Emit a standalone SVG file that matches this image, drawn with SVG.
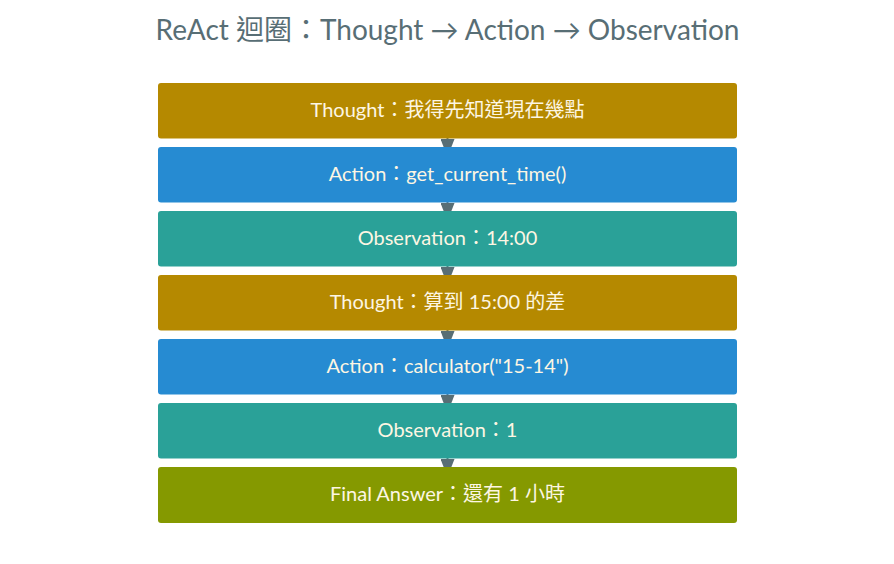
<svg xmlns="http://www.w3.org/2000/svg" width="894" height="564" viewBox="0 0 894 564">
<defs>
<style>
.title{font-family:"Lato","Noto Sans CJK TC",sans-serif;font-size:28px;fill:#586e75;text-anchor:middle}
.lbl{font-family:"Lato","Noto Sans CJK TC",sans-serif;font-size:20px;fill:#fdf6e3;text-anchor:middle}
.thought{fill:#b58900}
.action{fill:#268bd2}
.obs{fill:#2aa198}
.final{fill:#859900}
.edge{stroke:#586e75;stroke-width:2;fill:none}
</style>
<marker id="arr" markerUnits="userSpaceOnUse" markerWidth="18" markerHeight="14" refX="18" refY="7" orient="auto">
<path d="M0,0 L18,7 L0,14 z" fill="#586e75"/>
</marker>
</defs>
<rect width="894" height="564" fill="#ffffff"/>
<text class="title" x="447.5" y="40">ReAct 迴圈：Thought → Action → Observation</text>
<g id="connectors">
<path class="edge" d="M447.5,130 L447.5,157" marker-end="url(#arr)"/>
<path class="edge" d="M447.5,194 L447.5,221" marker-end="url(#arr)"/>
<path class="edge" d="M447.5,258 L447.5,285" marker-end="url(#arr)"/>
<path class="edge" d="M447.5,322 L447.5,349" marker-end="url(#arr)"/>
<path class="edge" d="M447.5,386 L447.5,413" marker-end="url(#arr)"/>
<path class="edge" d="M447.5,450 L447.5,477" marker-end="url(#arr)"/>
</g>
<g id="n1"><rect class="thought" x="158" y="83" width="579" height="55.5" rx="3"/><text class="lbl" x="447.5" y="117">Thought：我得先知道現在幾點</text></g>
<g id="n2"><rect class="action" x="158" y="147" width="579" height="55.5" rx="3"/><text class="lbl" x="447.5" y="181">Action：get_current_time()</text></g>
<g id="n3"><rect class="obs" x="158" y="211" width="579" height="55.5" rx="3"/><text class="lbl" x="447.5" y="245">Observation：14:00</text></g>
<g id="n4"><rect class="thought" x="158" y="275" width="579" height="55.5" rx="3"/><text class="lbl" x="447.5" y="309">Thought：算到 15:00 的差</text></g>
<g id="n5"><rect class="action" x="158" y="339" width="579" height="55.5" rx="3"/><text class="lbl" x="447.5" y="373">Action：calculator("15-14")</text></g>
<g id="n6"><rect class="obs" x="158" y="403" width="579" height="55.5" rx="3"/><text class="lbl" x="447.5" y="437">Observation：1</text></g>
<g id="n7"><rect class="final" x="158" y="467" width="579" height="56" rx="3"/><text class="lbl" x="447.5" y="501">Final Answer：還有 1 小時</text></g>
</svg>
